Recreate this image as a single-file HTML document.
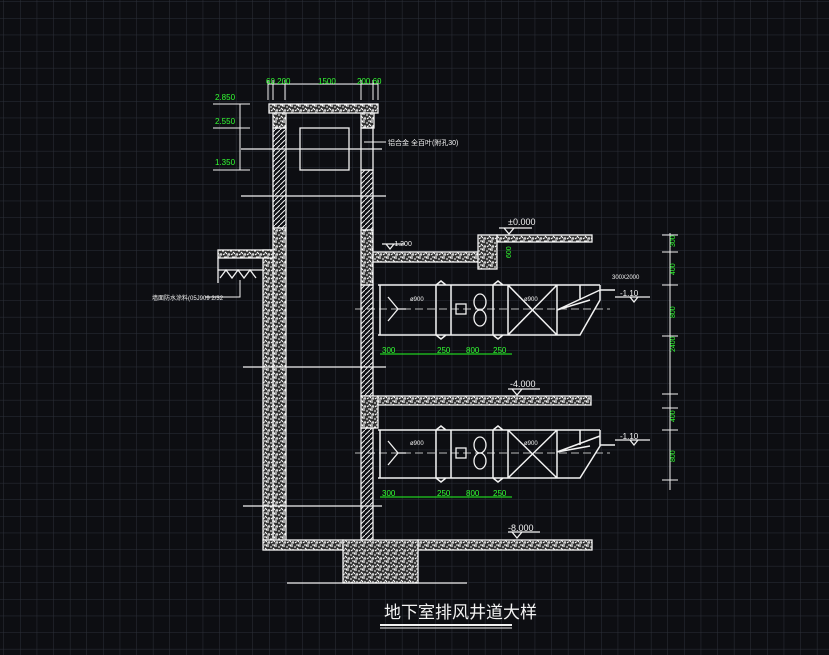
<!DOCTYPE html>
<html><head><meta charset="utf-8"><style>
html,body{margin:0;padding:0;background:#0d0e12;}
svg{display:block}
text{font-family:"Liberation Sans","Noto Sans CJK SC",sans-serif}
</style></head><body>
<svg width="829" height="655" viewBox="0 0 829 655" xmlns="http://www.w3.org/2000/svg">
<defs>
<pattern id="grid" width="16.6" height="16.6" patternUnits="userSpaceOnUse" x="4" y="2">
<path d="M16.6 0V16.6M0 16.6H16.6" stroke="#2c3039" stroke-width="1" fill="none"/>
</pattern>
<pattern id="conc" width="8" height="8" patternUnits="userSpaceOnUse">
<rect width="8" height="8" fill="#333"/>
<path d="M0 1h3M4 0v3M6 3h2M1 4l2 2M5 5v2M3 7h3M7 6l1 1M2 2h1M0 6h1" stroke="#fff" stroke-width="1.1"/>
</pattern>
<pattern id="hatch" width="5" height="5" patternUnits="userSpaceOnUse">
<path d="M-1 6L6 -1" stroke="#eee" stroke-width="1"/>
</pattern>
</defs>
<rect width="829" height="655" fill="#0d0e12"/>
<rect width="829" height="655" fill="url(#grid)"/>
<g stroke="#f2f2f2" stroke-width="1.3" fill="none">
<rect x="269" y="104" width="109" height="9" fill="url(#conc)"/>
<rect x="273" y="113" width="13" height="15" fill="url(#conc)"/>
<rect x="361" y="113" width="13" height="15" fill="url(#conc)"/>
<rect x="273" y="128" width="13" height="100" fill="url(#hatch)"/>
<rect x="273" y="228" width="13" height="312" fill="url(#conc)"/>
<rect x="361" y="128" width="12" height="42"/>
<rect x="361" y="170" width="12" height="60" fill="url(#hatch)"/>
<rect x="361" y="230" width="12" height="55" fill="url(#conc)"/>
<rect x="361" y="285" width="12" height="111" fill="url(#hatch)"/>
<rect x="361" y="396" width="17" height="32" fill="url(#conc)"/>
<rect x="361" y="428" width="12" height="112" fill="url(#hatch)"/>
<rect x="300" y="128" width="49" height="42"/>
<rect x="263" y="250" width="10" height="290" fill="url(#conc)"/>
<rect x="218" y="250" width="55" height="8" fill="url(#conc)"/>
<path d="M218 258v25M218 270h45M220 278l6-8 6 8 6-8 6 8 6-8 6 8"/>
<rect x="263" y="540" width="80" height="10" fill="url(#conc)"/>
<rect x="418" y="540" width="174" height="10" fill="url(#conc)"/>
<rect x="343" y="540" width="75" height="43" fill="url(#conc)"/>
<path d="M287 583H467"/>
<rect x="373" y="252" width="105" height="10" fill="url(#conc)"/>
<rect x="478" y="235" width="19" height="34" fill="url(#conc)"/>
<rect x="497" y="235" width="95" height="7" fill="url(#conc)"/>
<rect x="378" y="396" width="213" height="9" fill="url(#conc)"/>
<path d="M241 149H382M241 196H386M243 367H386M243 506H382" stroke-width="1.2"/>
<path d="M378 285H600M378 335H580L600 300V285M436 285l5 -4 5 4M493 285l5-4 5 4M436 335l5 4 5-4M493 335l5 4 5-4M380 285v50M436 285v50M451 285v50M493 285v50M508 285v50M557 285v50M600 285v15M580 285v15M600 290H615M508 285L557 335M557 285L508 335M557 310L600 290M557 310L590 300" stroke-width="1.5"/>
<path d="M355 309H610" stroke-dasharray="8 4" stroke-width="0.8"/>
<rect x="456" y="304" width="10" height="10"/>
<ellipse cx="480" cy="302" rx="6" ry="8"/><ellipse cx="480" cy="318" rx="6" ry="8"/>
<path d="M388 297l10 12-10 12M398 309h8"/>
<path d="M378 430H600M378 478H580L600 446V430M436 430l5-4 5 4M493 430l5-4 5 4M436 478l5 4 5-4M493 478l5 4 5-4M380 430v48M436 430v48M451 430v48M493 430v48M508 430v48M557 430v48M580 430v15M600 445H615M508 430L557 478M557 430L508 478M557 452L600 436M557 452L590 446" stroke-width="1.5"/>
<path d="M355 453H610" stroke-dasharray="8 4" stroke-width="0.8"/>
<rect x="456" y="448" width="10" height="10"/>
<ellipse cx="480" cy="445" rx="6" ry="8"/><ellipse cx="480" cy="461" rx="6" ry="8"/>
<path d="M388 441l10 12-10 12M398 453h8"/>
<path d="M499 228H532M504 228l5 6 5-6M508 389H540M512 389l5 6 5-6M508 532H540M512 532l5 6 5-6M382 244H405M386 244l4 5 4-5M615 297H650M630 297l4 5 4-5M615 440H650M630 440l4 5 4-5"/>
<path d="M670 233V490M662 235h16M662 252h16M662 285h16M662 336h16M662 394h16M662 408h16M662 430h16M662 480h16" stroke-width="1"/>
<path d="M380 354H512M380 497H512" stroke="#2f2" stroke-width="1"/>
<path d="M268 84H378M268 80v20M273 80v20M285 80v20M361 80v20M373 80v20M378 80v20" stroke-width="1"/>
<path d="M213 104H250M213 128H250M213 170H250M240 104V170" stroke-width="1"/>
<path d="M364 142H386M205 297H240V280" stroke-width="1"/>
<path d="M380 625H512" stroke-width="2"/><path d="M380 628H512" stroke-width="1"/>
</g>
<g fill="#3f3" font-size="8">
<text x="266" y="84">60 200</text><text x="318" y="84">1500</text><text x="357" y="84">200 60</text>
<text x="215" y="100">2.850</text><text x="215" y="124">2.550</text><text x="215" y="165">1.350</text>
<text x="382" y="353">300</text><text x="437" y="353">250</text><text x="466" y="353">800</text><text x="493" y="353">250</text>
<text x="382" y="496">300</text><text x="437" y="496">250</text><text x="466" y="496">800</text><text x="493" y="496">250</text>
<text x="675" y="247" transform="rotate(-90 675 247)" font-size="7">300</text>
<text x="675" y="275" transform="rotate(-90 675 275)" font-size="7">400</text>
<text x="675" y="318" transform="rotate(-90 675 318)" font-size="7">800</text>
<text x="675" y="352" transform="rotate(-90 675 352)" font-size="7">2400</text>
<text x="675" y="422" transform="rotate(-90 675 422)" font-size="7">400</text>
<text x="675" y="462" transform="rotate(-90 675 462)" font-size="7">800</text>
<text x="511" y="258" transform="rotate(-90 511 258)" font-size="7">600</text>
</g>
<g fill="#f2f2f2" font-size="9">
<text x="508" y="225">±0.000</text>
<text x="510" y="387">-4.000</text>
<text x="508" y="531">-8.000</text>
<text x="392" y="246" font-size="7">-1.200</text>
<text x="620" y="296" font-size="8">-1.10</text><text x="620" y="439" font-size="8">-1.10</text>
<text x="612" y="279" font-size="6">300X2000</text>
<text x="388" y="145" font-size="7">铝合金 全百叶(附孔30)</text>
<text x="152" y="300" font-size="6">墙面防水涂料(05J909 2/32</text>
<text x="410" y="301" font-size="6">ø900</text><text x="524" y="301" font-size="6">ø900</text>
<text x="410" y="445" font-size="6">ø900</text><text x="524" y="445" font-size="6">ø900</text>
<text x="384" y="618" font-size="17">地下室排风井道大样</text>
</g>
</svg>
</body></html>
